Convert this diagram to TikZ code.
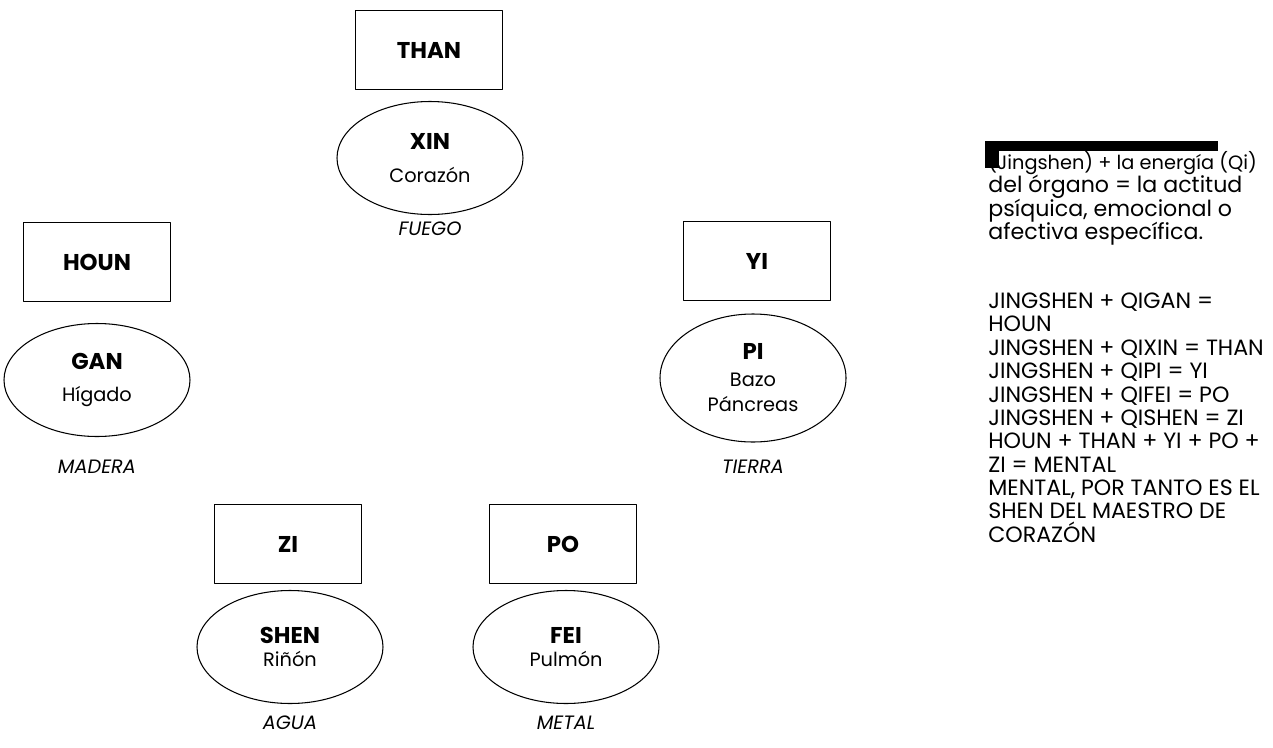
\documentclass[tikz,border=0pt]{standalone}
\usepackage{fontspec}
\setmainfont{Poppins}
\usetikzlibrary{shapes.geometric}

\begin{document}
\fontsize{11pt}{13.3pt}\selectfont
\begin{tikzpicture}[x=0.2mm, y=-0.2mm, line join=round,
	caja/.style={draw, line width=0.9pt, minimum width=2.94cm, minimum height=1.58cm, font=\fontsize{13pt}{15pt}\selectfont\bfseries},
	organo/.style={draw, ellipse, line width=0.6pt, minimum width=3.72cm, minimum height=2.26cm, align=center},
	elemento/.style={font=\fontsize{11pt}{12pt}\selectfont\itshape}]
	\useasboundingbox (0,0) rectangle (1273,747);
	\newcommand{\nombre}[1]{{\fontsize{13pt}{15pt}\selectfont\bfseries #1}}
	% Fuego
	\node[caja] (than) at (429,50) {THAN};
	\node[organo] (xin) at (430,158) {\nombre{XIN}\\[5pt]Corazón};
	\node[elemento] (fuego) at (430,229) {FUEGO};
	% Madera
	\node[caja] (houn) at (97,262) {HOUN};
	\node[organo] (gan) at (97,380) {\nombre{GAN}\\[5pt]Hígado};
	\node[elemento] (madera) at (97,467) {MADERA};
	% Tierra
	\node[caja] (yi) at (757,261) {YI};
	\node[organo, minimum height=2.56cm] (pi) at (753,378) {\nombre{PI}\\[2pt]Bazo\\[1pt]Páncreas};
	\node[elemento] (tierra) at (753,467) {TIERRA};
	% Agua
	\node[caja] (zi) at (288,544) {ZI};
	\node[organo] (shen) at (290,647) {\nombre{SHEN}\\[0pt]Riñón};
	\node[elemento] (agua) at (290,723) {AGUA};
	% Metal
	\node[caja] (po) at (563,544) {PO};
	\node[organo] (fei) at (566,647) {\nombre{FEI}\\[0pt]Pulmón};
	\node[elemento] (metal) at (566,723) {METAL};
	% Texto
	\node[anchor=north west, align=left, inner sep=0pt, font=\fontsize{12.6pt}{13.3pt}\selectfont] (texto) at (988,151) {{\fontsize{11pt}{13.3pt}\selectfont (Jingshen) + la energía (Qi)}\\
		del órgano = la actitud\\
		psíquica, emocional o\\
		afectiva específica.\\[26pt]
		JINGSHEN + QIGAN =\\
		HOUN\\
		JINGSHEN + QIXIN = THAN\\
		JINGSHEN + QIPI = YI\\
		JINGSHEN + QIFEI = PO\\
		JINGSHEN + QISHEN = ZI\\
		HOUN + THAN + YI + PO +\\
		ZI = MENTAL\\
		MENTAL, POR TANTO ES EL\\
		SHEN DEL MAESTRO DE\\
		CORAZÓN};
	\fill (985,141) rectangle (1218,151);
	\fill (985,141) rectangle (999,168);
\end{tikzpicture}
\end{document}
